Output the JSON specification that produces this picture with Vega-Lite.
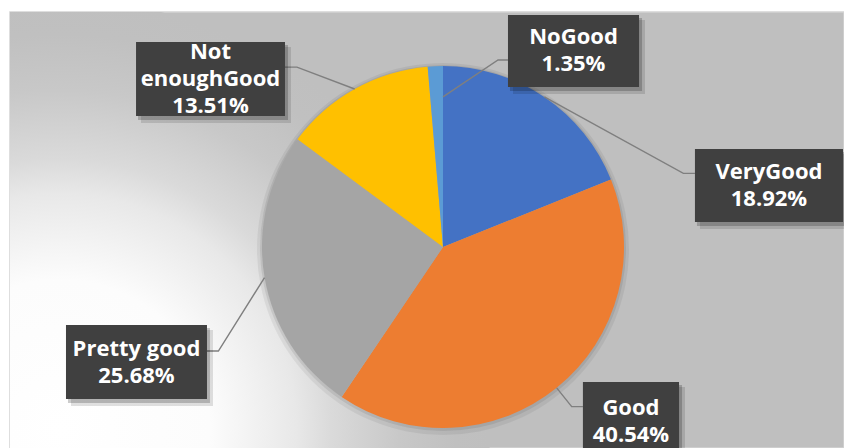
{
  "$schema": "https://vega.github.io/schema/vega-lite/v6.json",
  "width": 834,
  "height": 436,
  "autosize": {"type": "none"},
  "padding": {"left": 10, "top": 12, "right": 0, "bottom": 0},
  "background": "#ffffff",
  "config": {
    "view": {"stroke": "#D4D4D4", "strokeWidth": 1.5, "fill": "#bfbfbf"}
  },
  "datasets": {
    "slices": [
      {"category": "VeryGood", "percent": 18.92, "order": 1},
      {"category": "Good", "percent": 40.54, "order": 2},
      {"category": "Pretty good", "percent": 25.68, "order": 3},
      {"category": "Not enoughGood", "percent": 13.51, "order": 4},
      {"category": "NoGood", "percent": 1.35, "order": 5}
    ],
    "labels": [
      {"category": "VeryGood", "label": "VeryGood\n18.92%", "x1": 139.2, "x2": 221.0, "y1": 54.1, "y2": 13.8},
      {"category": "Good", "label": "Good\n40.54%", "x1": 77.3, "x2": 130.4, "y1": -74.6, "y2": -118.0},
      {"category": "Pretty good", "label": "Pretty good\n25.68%", "x1": -208.3, "x2": -130.4, "y1": -43.1, "y2": -84.0},
      {"category": "Not enoughGood", "label": "Not\nenoughGood\n13.51%", "x1": -169.6, "x2": -87.3, "y1": 113.3, "y2": 72.4},
      {"category": "NoGood", "label": "NoGood\n1.35%", "x1": 35.9, "x2": 108.3, "y1": 128.2, "y2": 88.4}
    ],
    "leaders": [
      {"category": "VeryGood", "step": 1, "x": 56.0, "y": 82.9},
      {"category": "VeryGood", "step": 2, "x": 132.8, "y": 40.7},
      {"category": "VeryGood", "step": 3, "x": 139.2, "y": 40.7},
      {"category": "Good", "step": 1, "x": 62.8, "y": -77.8},
      {"category": "Good", "step": 2, "x": 71.1, "y": -88.2},
      {"category": "Good", "step": 3, "x": 77.3, "y": -88.2},
      {"category": "Pretty good", "step": 1, "x": -98.6, "y": -16.9},
      {"category": "Pretty good", "step": 2, "x": -124.1, "y": -57.5},
      {"category": "Pretty good", "step": 3, "x": -130.4, "y": -57.5},
      {"category": "Not enoughGood", "step": 1, "x": -48.8, "y": 87.3},
      {"category": "Not enoughGood", "step": 2, "x": -80.7, "y": 99.4},
      {"category": "Not enoughGood", "step": 3, "x": -87.3, "y": 99.4},
      {"category": "NoGood", "step": 1, "x": 0, "y": 82.9},
      {"category": "NoGood", "step": 2, "x": 30.4, "y": 103.3},
      {"category": "NoGood", "step": 3, "x": 35.9, "y": 103.3}
    ]
  },
  "layer": [
    {
      "data": {"values": [{"glow": "background"}]},
      "mark": {
        "type": "arc",
        "outerRadius": 430,
        "theta": 0,
        "theta2": 6.2832,
        "clip": true,
        "stroke": null,
        "fill": {
          "gradient": "radial",
          "x1": 0.5, "y1": 0.5, "r1": 0,
          "x2": 0.5, "y2": 0.5, "r2": 0.5,
          "stops": [
            {"offset": 0, "color": "#ffffff"},
            {"offset": 0.35, "color": "#fcfcfc"},
            {"offset": 0.55, "color": "#e8e8e8"},
            {"offset": 0.63, "color": "#dadada"},
            {"offset": 0.79, "color": "#c8c8c8"},
            {"offset": 0.92, "color": "#c0c0c0"},
            {"offset": 1, "color": "#bfbfbf"}
          ]
        }
      },
      "encoding": {
        "x": {"datum": -211.6, "type": "quantitative", "scale": {"domain": [-239.23, 221.55], "nice": false, "zero": false}, "axis": null},
        "y": {"datum": -101.1, "type": "quantitative", "scale": {"domain": [-111.05, 129.83], "nice": false, "zero": false}, "axis": null}
      }
    },
    {
      "data": {"values": [{"shade": "pie"}]},
      "mark": {"type": "arc", "outerRadius": 186, "theta": 0, "theta2": 6.2832, "fill": "#000000", "opacity": 0.06, "stroke": null, "yOffset": 2},
      "encoding": {
        "x": {"datum": 0, "type": "quantitative", "axis": null},
        "y": {"datum": 0, "type": "quantitative", "axis": null}
      }
    },
    {
      "data": {"values": [{"shade": "pie"}]},
      "mark": {"type": "arc", "outerRadius": 183, "theta": 0, "theta2": 6.2832, "fill": "#000000", "opacity": 0.08, "stroke": null, "yOffset": 1},
      "encoding": {
        "x": {"datum": 0, "type": "quantitative", "axis": null},
        "y": {"datum": 0, "type": "quantitative", "axis": null}
      }
    },
    {
      "data": {"name": "slices"},
      "mark": {"type": "arc", "outerRadius": 181, "stroke": null},
      "encoding": {
        "x": {"datum": 0, "type": "quantitative", "axis": null},
        "y": {"datum": 0, "type": "quantitative", "axis": null},
        "theta": {"field": "percent", "type": "quantitative", "stack": true},
        "order": {"field": "order", "type": "quantitative"},
        "color": {
          "field": "category",
          "type": "nominal",
          "scale": {
            "domain": ["VeryGood", "Good", "Pretty good", "Not enoughGood", "NoGood"],
            "range": ["#4472C4", "#ED7D31", "#A5A5A5", "#FFC000", "#5B9BD5"]
          },
          "legend": null
        }
      }
    },
    {
      "data": {"name": "leaders"},
      "mark": {"type": "line", "color": "#7f7f7f", "strokeWidth": 1.4, "interpolate": "linear"},
      "encoding": {
        "x": {"field": "x", "type": "quantitative", "axis": null},
        "y": {"field": "y", "type": "quantitative", "axis": null},
        "detail": {"field": "category"},
        "order": {"field": "step", "type": "quantitative"}
      }
    },
    {
      "data": {"name": "labels"},
      "mark": {"type": "rect", "color": "#000000", "opacity": 0.12, "xOffset": 5, "x2Offset": 6, "yOffset": 5, "y2Offset": 7},
      "encoding": {
        "x": {"field": "x1", "type": "quantitative", "axis": null},
        "x2": {"field": "x2"},
        "y": {"field": "y1", "type": "quantitative", "axis": null},
        "y2": {"field": "y2"}
      }
    },
    {
      "data": {"name": "labels"},
      "mark": {"type": "rect", "color": "#000000", "opacity": 0.2, "xOffset": 2, "x2Offset": 3, "yOffset": 3, "y2Offset": 4},
      "encoding": {
        "x": {"field": "x1", "type": "quantitative", "axis": null},
        "x2": {"field": "x2"},
        "y": {"field": "y1", "type": "quantitative", "axis": null},
        "y2": {"field": "y2"}
      }
    },
    {
      "data": {"name": "labels"},
      "mark": {"type": "rect", "color": "#404040", "opacity": 1},
      "encoding": {
        "x": {"field": "x1", "type": "quantitative", "axis": null},
        "x2": {"field": "x2"},
        "y": {"field": "y1", "type": "quantitative", "axis": null},
        "y2": {"field": "y2"}
      }
    },
    {
      "data": {"name": "labels"},
      "transform": [
        {"calculate": "(datum.x1 + datum.x2) / 2", "as": "cx"},
        {"calculate": "(datum.y1 + datum.y2) / 2 + (length(split(datum.label, '\\n')) - 1) * 7.46", "as": "cy"}
      ],
      "mark": {
        "type": "text",
        "font": "Open Sans",
        "fontWeight": "bold",
        "fontSize": 22,
        "color": "#ffffff",
        "lineBreak": "\n",
        "lineHeight": 27,
        "align": "center",
        "baseline": "middle"
      },
      "encoding": {
        "x": {"field": "cx", "type": "quantitative", "axis": null},
        "y": {"field": "cy", "type": "quantitative", "axis": null},
        "text": {"field": "label", "type": "nominal"}
      }
    }
  ]
}
